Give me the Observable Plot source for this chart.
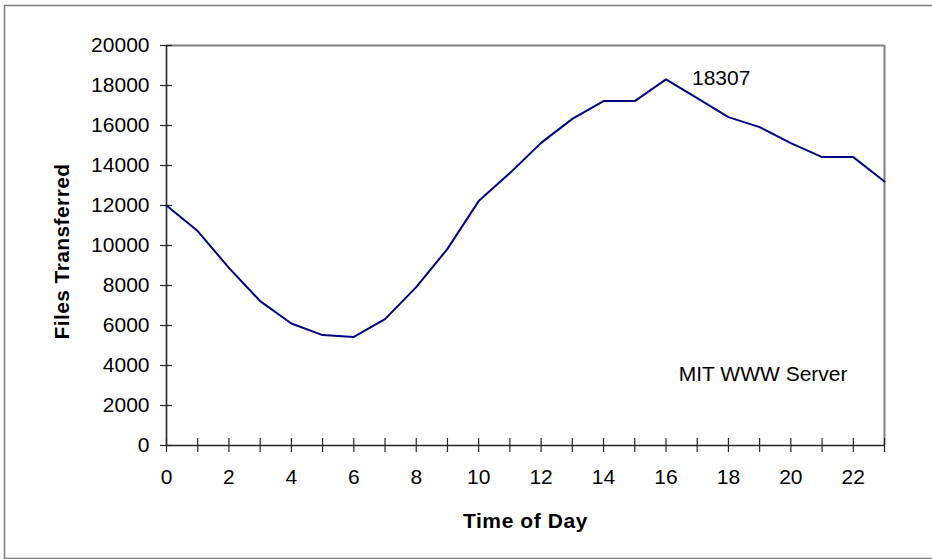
<!DOCTYPE html>
<html><head><meta charset="utf-8">
<script src="https://cdn.jsdelivr.net/npm/d3@7"></script>
<script src="https://cdn.jsdelivr.net/npm/@observablehq/plot@0.6"></script>
<style>html,body{margin:0;padding:0;background:#fff} svg{display:block}</style>
</head><body><div id="chart"></div>
<script>
const hours = [0,1,2,3,4,5,6,7,8,9,10,11,12,13,14,15,16,17,18,19,20,21,22,23];
const files = [12000,10720,8880,7220,6100,5520,5430,6320,7920,9830,12220,13620,15130,16330,17220,17220,18307,17370,16420,15920,15120,14420,14420,13200];
const xTicks = [0,1,2,3,4,5,6,7,8,9,10,11,12,13,14,15,16,17,18,19,20,21,22,23];
const xTickLabels = [0,2,4,6,8,10,12,14,16,18,20,22];
const yTicks = [0,2000,4000,6000,8000,10000,12000,14000,16000,18000,20000];
const peakLabel = ["18307"];
const seriesName = ["MIT WWW Server"];
const xTitle = ["Time of Day"];
const yTitle = ["Files Transferred"];

const data = hours.map((h, i) => ({hour: h, files: files[i]}));
const peak = data.reduce((a, b) => (b.files > a.files ? b : a));

const gray = "#808080";
const axisColor = "#262626";
const fs = 21;

const svg = Plot.plot({
  width: 932,
  height: 559,
  marginLeft: 166,
  marginRight: 48,
  marginTop: 45,
  marginBottom: 114,
  style: {fontFamily: "'Liberation Sans', Arial, sans-serif", fontSize: fs + "px", background: "#fff", overflow: "visible"},
  x: {domain: [0, 23]},
  y: {domain: [0, 20000]},
  marks: [
    Plot.frame({stroke: gray, strokeWidth: 1.6, insetLeft: -162, insetTop: -40, insetBottom: -113, insetRight: -52}),
    Plot.ruleY([20000], {stroke: gray, strokeWidth: 2}),
    Plot.ruleX([23], {stroke: gray, strokeWidth: 2}),
    Plot.axisY(yTicks, {tickSize: 12, dx: 6, text: null, label: null, stroke: axisColor, strokeWidth: 1.2}),
    Plot.axisY(yTicks, {tickSize: 0, tickPadding: 17, tickFormat: d => String(d), label: null, fill: "#000", fontSize: fs}),
    Plot.axisX(xTicks, {tickSize: 14, dy: -7, text: null, label: null, stroke: axisColor, strokeWidth: 1.2}),
    Plot.axisX(xTickLabels, {tickSize: 0, tickPadding: 24, tickFormat: d => String(d), label: null, fill: "#000", fontSize: fs}),
    Plot.ruleY([0], {stroke: axisColor, strokeWidth: 1.6}),
    Plot.ruleX([0], {stroke: axisColor, strokeWidth: 1.6}),
    Plot.line(data, {x: "hour", y: "files", stroke: "#000080", strokeWidth: 2}),
    Plot.text(peakLabel, {x: () => peak.hour, y: () => peak.files, textAnchor: "start", dx: 26, dy: -1, fill: "#000", fontSize: fs}),
    Plot.text(seriesName, {frameAnchor: "bottom-right", textAnchor: "end", lineAnchor: "middle", dx: -37, dy: -71, fill: "#000", fontSize: fs}),
    Plot.text(xTitle, {frameAnchor: "bottom", textAnchor: "middle", lineAnchor: "middle", dy: 76, fontWeight: "bold", fill: "#000", fontSize: fs}),
    Plot.text(yTitle, {frameAnchor: "left", textAnchor: "middle", lineAnchor: "middle", rotate: -90, dx: -104, dy: 6, fontWeight: "bold", fill: "#000", fontSize: fs})
  ]
});
d3.select(svg).selectAll("text").filter(function() { return this.textContent === xTitle[0]; }).attr("letter-spacing", "0.6px");
d3.select(svg).selectAll("text").filter(function() { return this.textContent === yTitle[0]; }).attr("letter-spacing", "0.4px");
document.getElementById("chart").appendChild(svg);
</script>
</body></html>
